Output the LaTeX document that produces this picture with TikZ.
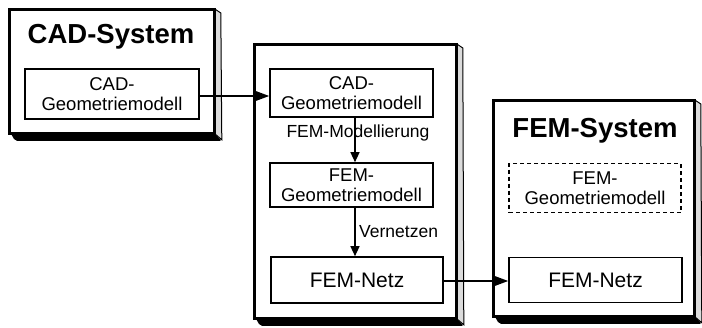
\documentclass[tikz,border=0pt]{standalone}
\usepackage{fontspec}
\setmainfont{Liberation Sans}
\usetikzlibrary{arrows.meta}
\tikzset{
  frontface/.style={draw, line width=1.8pt, fill=white, anchor=north west, inner sep=0pt},
  innerbox/.style={draw, line width=1.6pt, fill=white, inner sep=0pt, align=center,
     font=\fontsize{18.5}{19.5}\selectfont},
  dashbox/.style={innerbox, dash pattern=on 4pt off 3pt},
  netzbox/.style={innerbox, font=\fontsize{21}{24}\selectfont},
  titletext/.style={font=\fontsize{27.5}{30}\selectfont\bfseries, inner sep=0pt},
  lbl/.style={font=\fontsize{17.5}{19}\selectfont, inner sep=0pt},
  arr/.style={line width=1.6pt, -{Triangle[length=14pt,width=10pt]}},
  varr/.style={line width=1.3pt, -{Triangle[length=10pt,width=9pt]}},
  sideface/.style={fill=gray!28, draw, line width=1pt},
}
\newcommand{\shadebox}[1]{%
  \filldraw[sideface] (#1.north east) -- ++(6,4) -- ([shift={(7,6)}]#1.south east) -- (#1.south east) -- cycle;
  \fill[black, rounded corners=2pt] ([shift={(2,0)}]#1.south west) -- (#1.south east) -- ([shift={(7,7)}]#1.south east) -- ([shift={(6,7)}]#1.south west) -- cycle;
  \draw[line width=1.8pt] (#1.north west) rectangle (#1.south east);
}
\begin{document}
\begin{tikzpicture}[x=1pt,y=-1pt]
\useasboundingbox (0,0) rectangle (702,327);
% outer system boxes
\node[frontface, minimum width=204pt, minimum height=123pt] (cad) at (9,9) {};
\shadebox{cad}
\node[frontface, minimum width=201pt, minimum height=273pt] (mid) at (254,44) {};
\shadebox{mid}
\node[frontface, minimum width=200pt, minimum height=215pt] (fem) at (493,100) {};
\shadebox{fem}
% titles
\node[titletext] (cadt) at (111,37) {CAD-System};
\node[titletext] (femt) at (595,131) {FEM-System};
% CAD system content
\node[innerbox, minimum width=174pt, minimum height=50pt] (cadg) at (112,94) {CAD-\\Geometriemodell};
% middle column
\node[innerbox, minimum width=163pt, minimum height=48pt] (mcad) at (351.5,93) {CAD-\\Geometriemodell};
\node[innerbox, minimum width=163pt, minimum height=44pt] (mfg) at (351.5,185) {FEM-\\Geometriemodell};
\node[netzbox, minimum width=172pt, minimum height=46pt] (mnetz) at (357,280) {FEM-Netz};
% FEM system content
\node[dashbox, minimum width=172pt, minimum height=49pt] (fdash) at (595,188) {FEM-\\Geometriemodell};
\node[netzbox, minimum width=173pt, minimum height=45pt] (fnetz) at (595.5,280) {FEM-Netz};
% connectors
\draw[arr] (cadg.east |- 0,96) -- (mcad.west |- 0,96);
\draw[varr] (mcad.south -| 355,0) -- (mfg.north -| 355,0);
\draw[varr] (mfg.south -| 355,0) -- (mnetz.north -| 355,0);
\draw[arr] (mnetz.east |- 0,281) -- (fnetz.west |- 0,281);
% labels
\node[lbl] (lmod) at (358,133) {FEM-Modellierung};
\node[lbl, anchor=west] (lver) at (359,232) {Vernetzen};
\end{tikzpicture}
\end{document}
